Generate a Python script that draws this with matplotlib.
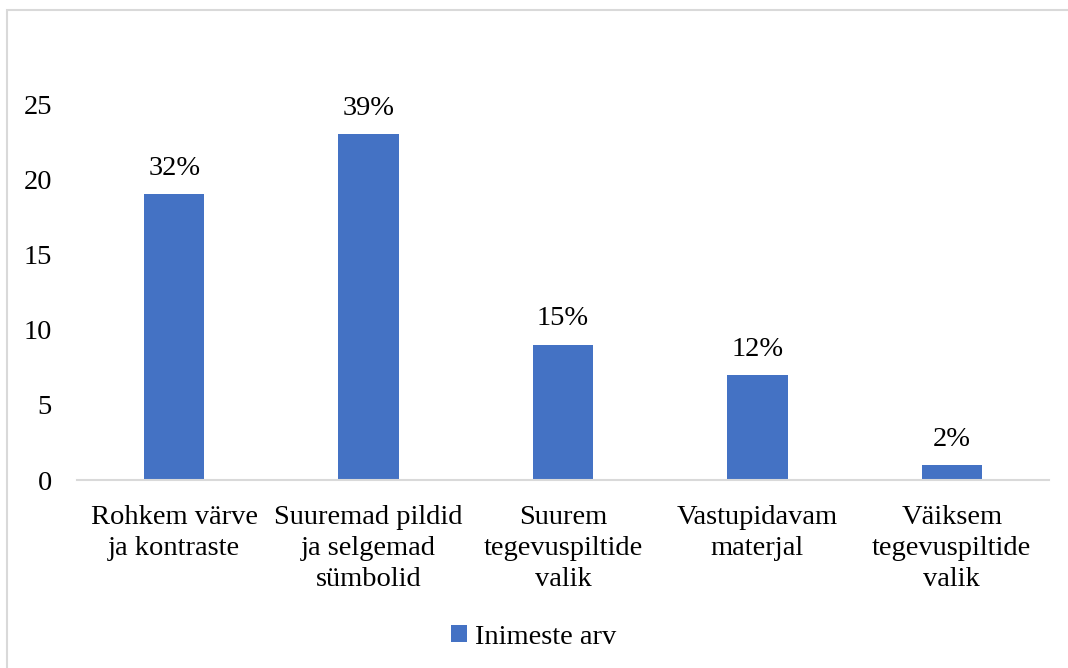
import matplotlib.pyplot as plt
from matplotlib.patches import Rectangle

# andmed
kategooriad = ['Rohkem värve\nja kontraste', 'Suuremad pildid\nja selgemad\nsümbolid',
               'Suurem\ntegevuspiltide\nvalik', 'Vastupidavam\nmaterjal',
               'Väiksem\ntegevuspiltide\nvalik']
vaartused = [19, 23, 9, 7, 1]
protsendid = ['32%', '39%', '15%', '12%', '2%']

plt.rcParams['font.family'] = ['Liberation Serif', 'DejaVu Serif']

fig = plt.figure(figsize=(10.68, 6.68), dpi=100)
fig.patches.append(Rectangle((7 / 1068, -0.1), 1.2, 1 - 10 / 668 + 0.1,
                             transform=fig.transFigure, fill=False,
                             edgecolor='#d9d9d9', linewidth=1.5))

ax = fig.add_axes([77 / 1068, 188 / 668, 972 / 1068, 376 / 668])
x = range(len(kategooriad))
bars = ax.bar(x, vaartused, width=0.31, color='#4472C4', label='Inimeste arv')
for b, p in zip(bars, protsendid):
    ax.annotate(p, (b.get_x() + b.get_width() / 2, b.get_height()),
                xytext=(0, 9.5), textcoords='offset points',
                ha='center', va='bottom', fontsize=20.5)

ax.set_xlim(-0.5, 4.5)
ax.set_ylim(0, 25)
ax.set_yticks([0, 5, 10, 15, 20, 25])
ax.set_xticks(list(x))
ax.set_xticklabels(kategooriad, fontsize=20.5, linespacing=1.32)
ax.tick_params(axis='y', labelsize=20.5, length=0, pad=18)
ax.tick_params(axis='x', length=0, pad=18)
for s in ['top', 'right', 'left']:
    ax.spines[s].set_visible(False)
ax.spines['bottom'].set_color('#d9d9d9')
ax.spines['bottom'].set_linewidth(1.5)

fig.legend(loc='center', bbox_to_anchor=(0.5, 1 - 637 / 668), frameon=False,
           fontsize=20.5, handlelength=0.55, handleheight=0.55, handletextpad=0.3)

fig.savefig('out.png', dpi=100)
